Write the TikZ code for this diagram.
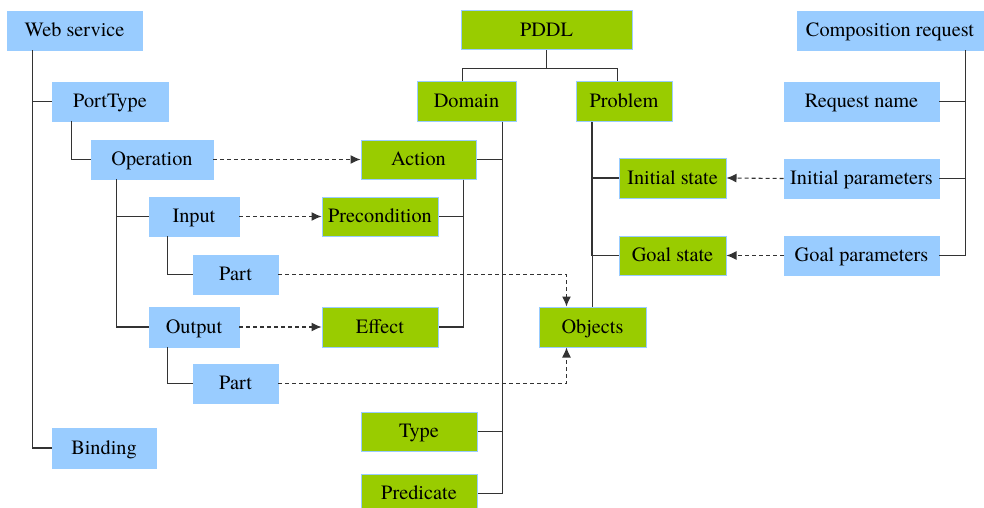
\documentclass[tikz,border=0pt]{standalone}
\usepackage{fontspec}
\setmainfont{TeX Gyre Termes}
\usetikzlibrary{arrows.meta}
\definecolor{bxblue}{HTML}{99CCFF}
\definecolor{bxgreen}{HTML}{99CC00}
\definecolor{lncol}{HTML}{333333}
\begin{document}
\begin{tikzpicture}[x=1pt,y=-1pt,
  every node/.style={font=\fontsize{20.3}{24}\selectfont, inner sep=0pt, minimum height=39pt, text height=14pt, text depth=2pt, anchor=center},
  bluebox/.style={rectangle, fill=bxblue, draw=bxblue, line width=0.8pt},
  greenbox/.style={rectangle, fill=bxgreen, draw=bxblue, line width=1pt},
  treeline/.style={draw=lncol, line width=1.2pt},
  dasharrow/.style={draw=lncol, line width=1.1pt, dash pattern=on 4pt off 3pt, -{Latex[length=10pt,width=9pt]}}
]
\useasboundingbox (0,0) rectangle (984,508);
\clip (0,0) rectangle (984,508);
% Web service side
\node[bluebox, minimum width=135pt] (ws) at (74.5,30.5) {Web service};
\node[bluebox, minimum width=116pt] (pt) at (110,101.5) {PortType};
\node[bluebox, minimum width=122pt] (op) at (152,159.5) {Operation};
\node[bluebox, minimum width=90pt] (in) at (194,216.5) {Input};
\node[bluebox, minimum width=85pt] (pa) at (235.5,274.5) {Part};
\node[bluebox, minimum width=90pt, minimum height=40pt] (out) at (194,327) {Output};
\node[bluebox, minimum width=85pt] (pb) at (235.5,383.5) {Part};
\node[bluebox, minimum width=104pt, minimum height=40pt] (bind) at (104,448) {Binding};
% PDDL side
\node[greenbox, minimum width=171pt] (pddl) at (546.5,30.5) {PDDL};
\node[greenbox, minimum width=99pt] (dom) at (466.5,101.5) {Domain};
\node[greenbox, minimum width=96pt] (prob) at (624,101.5) {Problem};
\node[greenbox, minimum width=115pt] (act) at (418.5,159.5) {Action};
\node[greenbox, minimum width=116pt] (pre) at (380,216.5) {Precondition};
\node[greenbox, minimum width=116pt, minimum height=40pt] (eff) at (380,327) {Effect};
\node[greenbox, minimum width=116pt] (type) at (419,431.5) {Type};
\node[greenbox, minimum width=116pt] (pred) at (419,493.5) {Predicate};
\node[greenbox, minimum width=107pt, minimum height=40pt] (init) at (672.5,178) {Initial state};
\node[greenbox, minimum width=107pt] (goal) at (672.5,255.5) {Goal state};
\node[greenbox, minimum width=107pt, minimum height=40pt] (obj) at (592.5,327) {Objects};
% Composition request side
\node[bluebox, minimum width=186pt] (comp) at (890,30.5) {Composition request};
\node[bluebox, minimum width=155pt] (rn) at (861.5,101.5) {Request name};
\node[bluebox, minimum width=155pt] (ip) at (861.5,178.5) {Initial parameters};
\node[bluebox, minimum width=155pt] (gp) at (861.5,255.5) {Goal parameters};
% tree lines: web service
\draw[treeline] ([xshift=26pt]ws.south west) |- (pt.west);
\draw[treeline] ([xshift=26pt]ws.south west) |- (bind.west);
\draw[treeline] ([xshift=20pt]pt.south west) |- (op.west);
\draw[treeline] ([xshift=26pt]op.south west) |- (in.west);
\draw[treeline] ([xshift=26pt]op.south west) |- (out.west);
\draw[treeline] ([xshift=19pt]in.south west) |- (pa.west);
\draw[treeline] ([xshift=19pt]out.south west) |- (pb.west);
% tree lines: PDDL
\draw[treeline] (pddl.south) -- ++(0,19);
\draw[treeline] ([xshift=46pt]dom.north west) -- ++(0,-13) -| ([xshift=42pt]prob.north west);
\draw[treeline] ([xshift=-14pt]dom.south east) |- (act.east);
\draw[treeline] ([xshift=-14pt]dom.south east) |- (type.east);
\draw[treeline] ([xshift=-14pt]dom.south east) |- (pred.east);
\draw[treeline] ([xshift=-13pt]act.south east) |- (pre.east);
\draw[treeline] ([xshift=-13pt]act.south east) |- (eff.east);
\draw[treeline] ([xshift=16pt]prob.south west) |- (init.west);
\draw[treeline] ([xshift=16pt]prob.south west) |- (goal.west);
\draw[treeline] (obj.north |- prob.south) -- (obj.north);
% tree lines: composition request
\draw[treeline] ([xshift=-18pt]comp.south east) |- (rn.east);
\draw[treeline] ([xshift=-18pt]comp.south east) |- (ip.east);
\draw[treeline] ([xshift=-18pt]comp.south east) |- (gp.east);
% dashed mappings
\draw[dasharrow] (op.east) -- (act.west);
\draw[dasharrow] (in.east) -- (pre.west);
\draw[dasharrow] (out.east) -- (eff.west);
\draw[dasharrow] (ip.west) -- (init.east);
\draw[dasharrow] (gp.west) -- (goal.east);
\draw[dasharrow] (pa.east) -| ([xshift=28pt]obj.north west);
\draw[dasharrow] (pb.east) -| ([xshift=28pt]obj.south west);
\end{tikzpicture}
\end{document}
